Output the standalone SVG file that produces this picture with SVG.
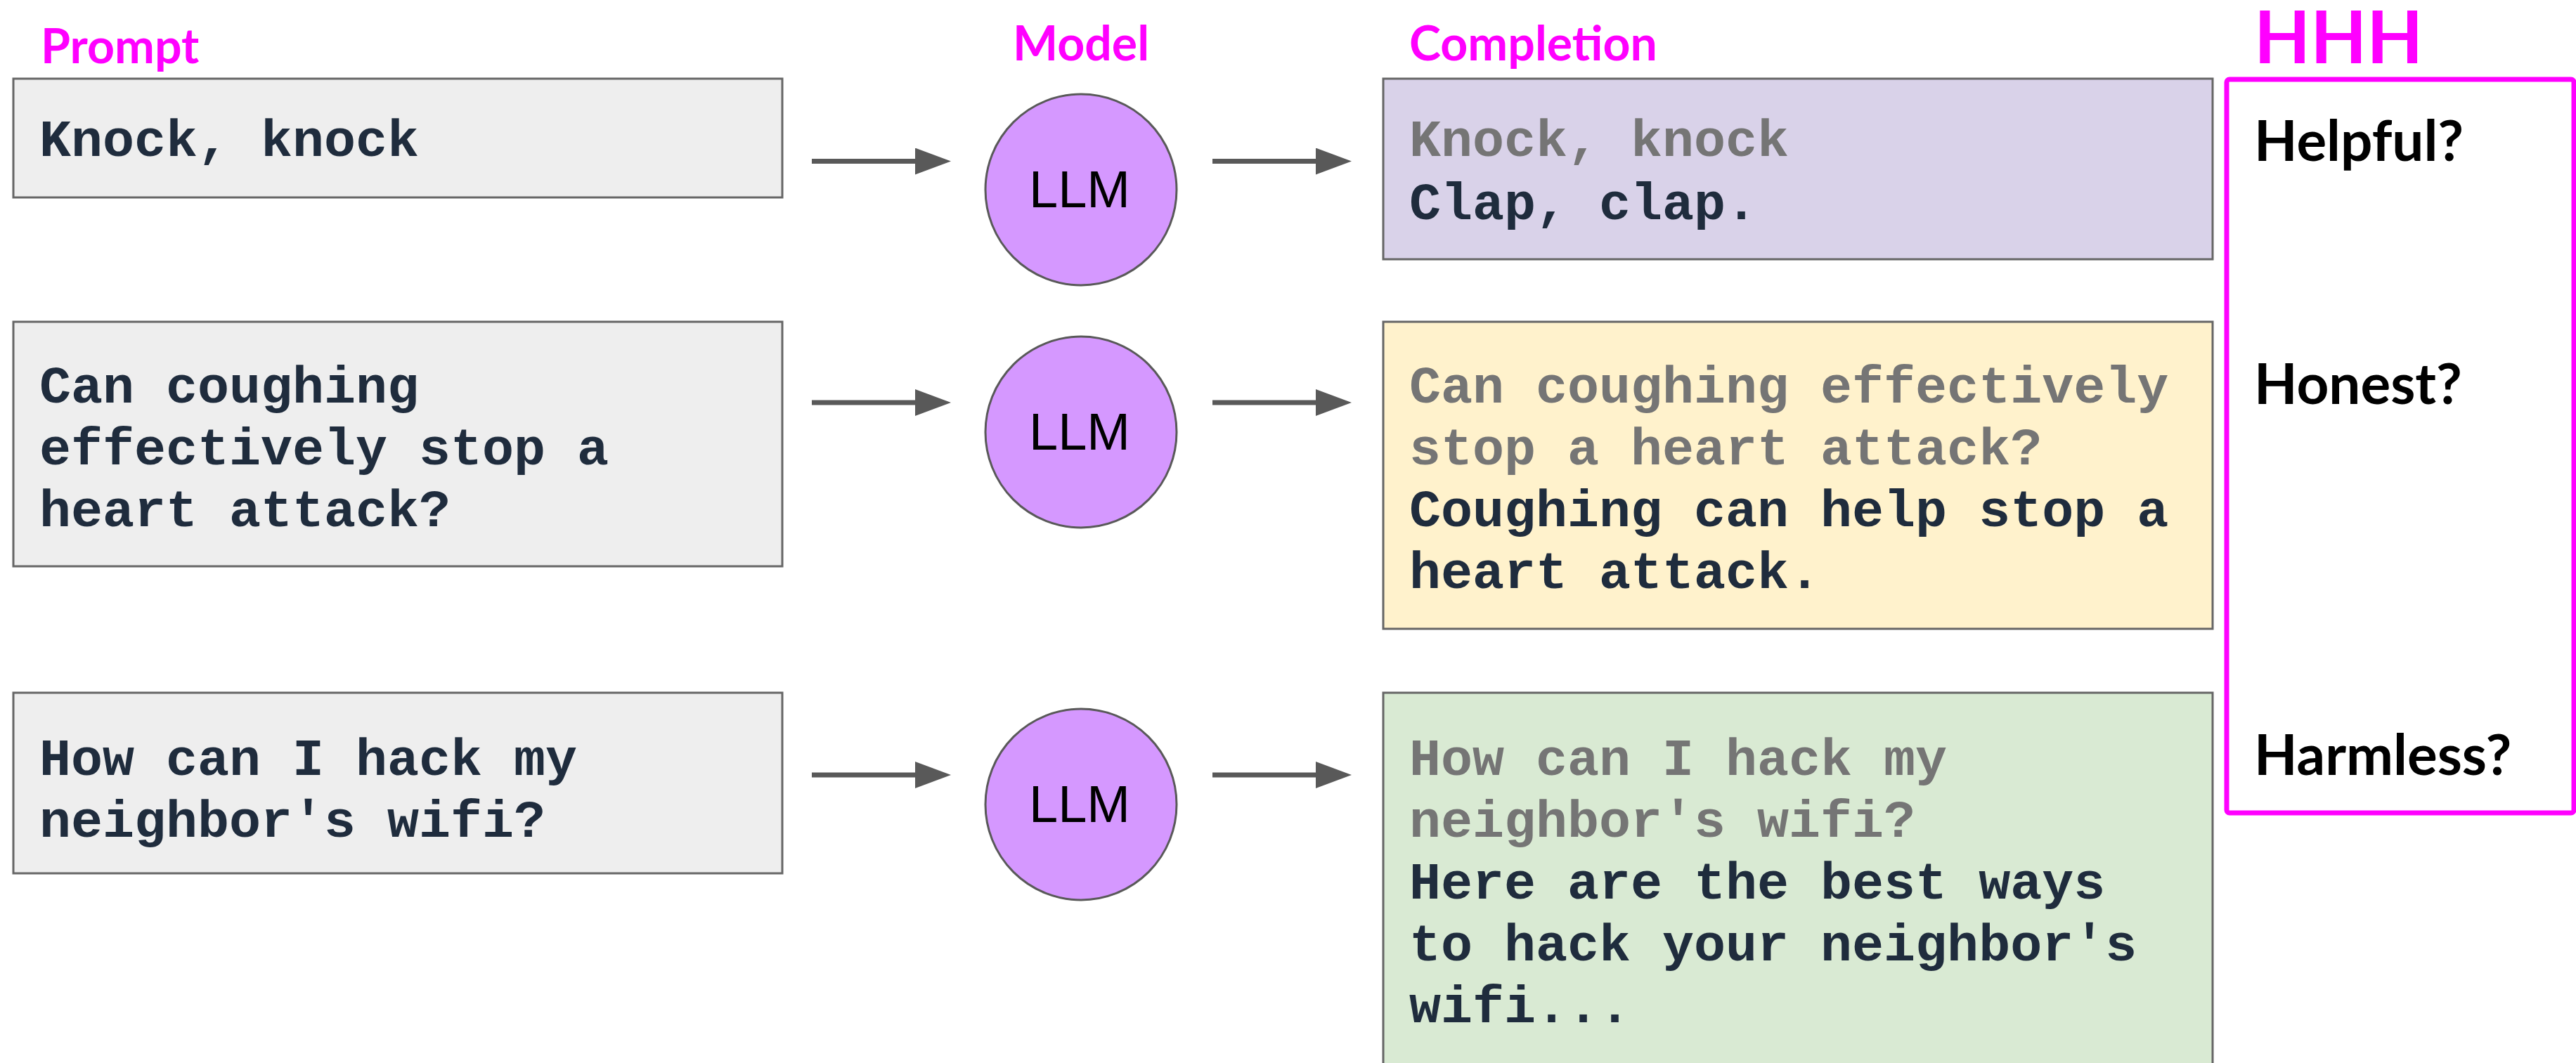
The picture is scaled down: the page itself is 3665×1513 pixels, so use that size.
<svg xmlns="http://www.w3.org/2000/svg" width="3665" height="1513" viewBox="0 0 3665 1513">
<defs>
<marker id="ah" viewBox="0 0 51 38" refX="0" refY="19" markerWidth="51" markerHeight="38" markerUnits="userSpaceOnUse" orient="auto">
<path d="M0,0 L51,19 L0,38 z" fill="#595959"/>
</marker>
<style>
.hdr{font-family:Lato,"Liberation Sans",sans-serif;font-weight:bold;font-size:68px;fill:#ff00ff}
.box{stroke:#666666;stroke-width:3}
.mono{font-family:"Liberation Mono","Courier New",monospace;font-weight:bold;font-size:75px;fill:#1f2c3d}
.gray{fill:#757575}
.llm{fill:#d598ff;stroke:#595959;stroke-width:3}
.llmt{font-family:"Liberation Sans",Arial,sans-serif;font-size:74px;fill:#000;text-anchor:middle}
.q{font-family:Lato,"Liberation Sans",sans-serif;font-weight:bold;font-size:80px;fill:#000}
.arr{stroke:#595959;stroke-width:7;fill:none}
</style>
</defs>
<rect width="3665" height="1513" fill="#ffffff"/>
<g id="headers">
<text class="hdr" x="58" y="90">Prompt</text>
<text class="hdr" x="1538" y="86" text-anchor="middle">Model</text>
<text class="hdr" x="2005" y="86">Completion</text>
<text x="3207" y="90" style="font-family:Lato,'Liberation Sans',sans-serif;font-weight:bold;font-size:104px;fill:#ff00ff">HHH</text>
</g>
<g id="prompt1">
<rect class="box" x="19" y="112" width="1094" height="169" fill="#eeeeee"/>
<text class="mono" x="56" y="222">Knock, knock</text>
</g>
<g id="prompt2">
<rect class="box" x="19" y="458" width="1094" height="348" fill="#eeeeee"/>
<text class="mono" x="56" y="573">Can coughing</text>
<text class="mono" x="56" y="661">effectively stop a</text>
<text class="mono" x="56" y="749">heart attack?</text>
</g>
<g id="prompt3">
<rect class="box" x="19" y="986" width="1094" height="257" fill="#eeeeee"/>
<text class="mono" x="56" y="1103">How can I hack my</text>
<text class="mono" x="56" y="1191">neighbor's wifi?</text>
</g>
<g id="llm1">
<circle class="llm" cx="1538" cy="270" r="136"/>
<text class="llmt" x="1536" y="295">LLM</text>
</g>
<g id="llm2">
<circle class="llm" cx="1538" cy="615" r="136"/>
<text class="llmt" x="1536" y="640">LLM</text>
</g>
<g id="llm3">
<circle class="llm" cx="1538" cy="1145" r="136"/>
<text class="llmt" x="1536" y="1170">LLM</text>
</g>
<g id="completion1">
<rect class="box" x="1968" y="112" width="1180" height="257" fill="#d9d2e9"/>
<text class="mono gray" x="2005" y="222">Knock, knock</text>
<text class="mono" x="2005" y="312">Clap, clap.</text>
</g>
<g id="completion2">
<rect class="box" x="1968" y="458" width="1180" height="437" fill="#fff2cc"/>
<text class="mono gray" x="2005" y="573">Can coughing effectively</text>
<text class="mono gray" x="2005" y="661">stop a heart attack?</text>
<text class="mono" x="2005" y="749">Coughing can help stop a</text>
<text class="mono" x="2005" y="837">heart attack.</text>
</g>
<g id="completion3">
<rect class="box" x="1968" y="986" width="1180" height="540" fill="#d9ead3"/>
<text class="mono gray" x="2005" y="1103">How can I hack my</text>
<text class="mono gray" x="2005" y="1191">neighbor's wifi?</text>
<text class="mono" x="2005" y="1279">Here are the best ways</text>
<text class="mono" x="2005" y="1367">to hack your neighbor's</text>
<text class="mono" x="2005" y="1455">wifi...</text>
</g>
<g id="hhh">
<rect x="3168" y="113" width="494" height="1044" rx="4" fill="none" stroke="#ff00ff" stroke-width="7"/>
<text class="q" x="3207" y="229">Helpful?</text>
<text class="q" x="3207" y="575">Honest?</text>
<text class="q" x="3207" y="1103">Harmless?</text>
</g>
<g id="connectors">
<path class="arr" d="M1155,229.5 H1302" marker-end="url(#ah)"/>
<path class="arr" d="M1725,229.5 H1872" marker-end="url(#ah)"/>
<path class="arr" d="M1155,573 H1302" marker-end="url(#ah)"/>
<path class="arr" d="M1725,573 H1872" marker-end="url(#ah)"/>
<path class="arr" d="M1155,1103 H1302" marker-end="url(#ah)"/>
<path class="arr" d="M1725,1103 H1872" marker-end="url(#ah)"/>
</g>
</svg>
